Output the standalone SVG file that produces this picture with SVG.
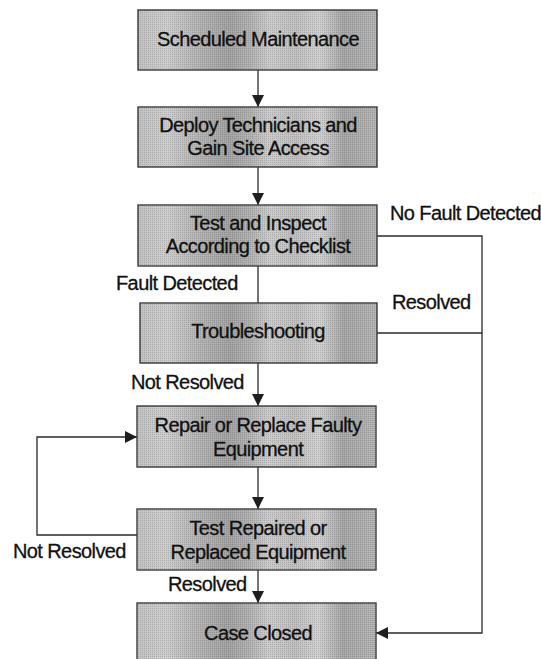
<svg xmlns="http://www.w3.org/2000/svg" width="541" height="659" viewBox="0 0 541 659">
  <defs>
    <!-- grey band shading used on every process box -->
    <linearGradient id="boxFill" x1="0" y1="0" x2="1" y2="0">
      <stop offset="0" stop-color="#c0c0c0"/>
      <stop offset="0.12" stop-color="#cbcbcb"/>
      <stop offset="0.25" stop-color="#b2b2b2"/>
      <stop offset="0.38" stop-color="#a0a0a0"/>
      <stop offset="0.47" stop-color="#afafaf"/>
      <stop offset="0.55" stop-color="#c9c9c9"/>
      <stop offset="0.66" stop-color="#bdbdbd"/>
      <stop offset="0.76" stop-color="#cecece"/>
      <stop offset="0.86" stop-color="#a4a4a4"/>
      <stop offset="1" stop-color="#b2b2b2"/>
    </linearGradient>
    <!-- fine screen texture over the shading -->
    <pattern id="screen" width="2" height="2" patternUnits="userSpaceOnUse">
      <rect x="0" y="0" width="1" height="1" fill="#000" fill-opacity="0.12"/>
      <rect x="1" y="1" width="1" height="1" fill="#fff" fill-opacity="0.10"/>
    </pattern>
    <marker id="arrow" viewBox="0 0 12 12" refX="12" refY="6" markerWidth="12" markerHeight="12" markerUnits="userSpaceOnUse" orient="auto">
      <path d="M0,0 L12,6 L0,12 Z" fill="#1e1e1e"/>
    </marker>
  </defs>
  <style>
    .box { fill: url(#boxFill); stroke: #3a3a3a; stroke-width: 1.4; }
    .tex { fill: url(#screen); stroke: none; }
    .label { font-family: "Liberation Sans", Arial, sans-serif; font-size: 20px; letter-spacing: -0.6px; fill: #111; stroke: #111; stroke-width: 0.3; }
    .mid { text-anchor: middle; }
    .conn { fill: none; stroke: #2a2a2a; stroke-width: 1.3; }
  </style>

  <rect x="0" y="0" width="541" height="659" fill="#fff"/>

  <g id="connectors">
    <line class="conn" x1="258" y1="70" x2="258" y2="107" marker-end="url(#arrow)"/>
    <line class="conn" x1="258" y1="167" x2="258" y2="205" marker-end="url(#arrow)"/>
    <line class="conn" x1="258" y1="266" x2="258" y2="303"/>
    <line class="conn" x1="258" y1="363" x2="258" y2="406" marker-end="url(#arrow)"/>
    <line class="conn" x1="258" y1="467" x2="258" y2="509" marker-end="url(#arrow)"/>
    <line class="conn" x1="258" y1="570" x2="258" y2="603" marker-end="url(#arrow)"/>
    <polyline class="conn" points="377,236 482,236 482,633 376,633" marker-end="url(#arrow)"/>
    <line class="conn" x1="377" y1="333" x2="482" y2="333"/>
    <polyline class="conn" points="137,535 37,535 37,437 137,437" marker-end="url(#arrow)"/>
    <text class="label" x="390" y="220">No Fault Detected</text>
    <text class="label" x="116" y="290">Fault Detected</text>
    <text class="label" x="392" y="309">Resolved</text>
    <text class="label" x="131" y="389">Not Resolved</text>
    <text class="label" x="13" y="558">Not Resolved</text>
    <text class="label" x="168" y="591">Resolved</text>
  </g>

  <g id="scheduled-maintenance">
    <rect class="box" x="138" y="10" width="239" height="60"/>
    <rect class="tex" x="138" y="10" width="239" height="60"/>
    <text class="label mid" x="258" y="46">Scheduled Maintenance</text>
  </g>

  <g id="deploy-technicians">
    <rect class="box" x="138" y="107" width="239" height="60"/>
    <rect class="tex" x="138" y="107" width="239" height="60"/>
    <text class="label mid" x="258" y="132">Deploy Technicians and</text>
    <text class="label mid" x="258" y="155">Gain Site Access</text>
  </g>

  <g id="test-inspect">
    <rect class="box" x="138" y="205" width="239" height="61"/>
    <rect class="tex" x="138" y="205" width="239" height="61"/>
    <text class="label mid" x="258" y="230">Test and Inspect</text>
    <text class="label mid" x="258" y="253">According to Checklist</text>
  </g>

  <g id="troubleshooting">
    <rect class="box" x="140" y="303" width="237" height="60"/>
    <rect class="tex" x="140" y="303" width="237" height="60"/>
    <text class="label mid" x="258" y="338">Troubleshooting</text>
  </g>

  <g id="repair-replace">
    <rect class="box" x="137" y="406" width="239" height="61"/>
    <rect class="tex" x="137" y="406" width="239" height="61"/>
    <text class="label mid" x="258" y="432">Repair or Replace Faulty</text>
    <text class="label mid" x="258" y="456">Equipment</text>
  </g>

  <g id="test-repaired">
    <rect class="box" x="137" y="509" width="239" height="61"/>
    <rect class="tex" x="137" y="509" width="239" height="61"/>
    <text class="label mid" x="258" y="535">Test Repaired or</text>
    <text class="label mid" x="258" y="559">Replaced Equipment</text>
  </g>

  <!-- last box runs off the lower edge of the page -->
  <g id="case-closed">
    <rect class="box" x="137" y="603" width="239" height="62"/>
    <rect class="tex" x="137" y="603" width="239" height="62"/>
    <text class="label mid" x="258" y="640">Case Closed</text>
  </g>
</svg>
